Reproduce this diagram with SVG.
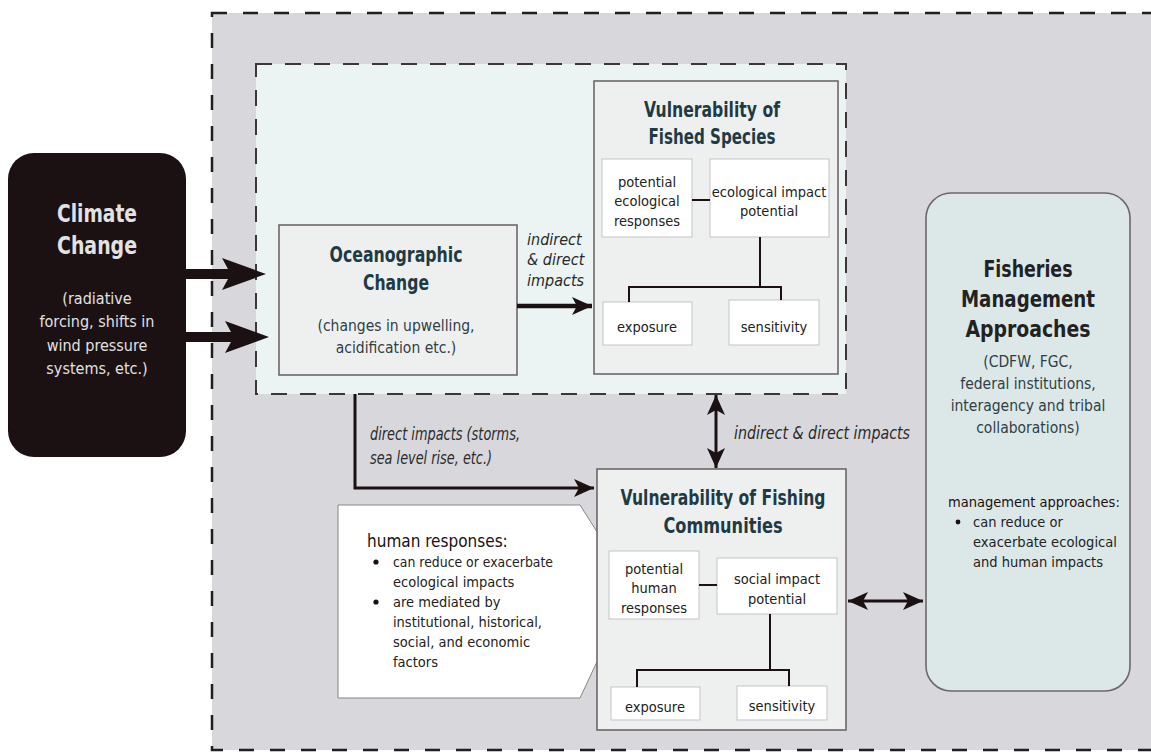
<svg xmlns="http://www.w3.org/2000/svg" width="1151" height="754" viewBox="0 0 1151 754">
<style>
text{font-family:"Liberation Sans Narrow","DejaVu Sans Condensed","Liberation Sans",sans-serif;font-stretch:condensed}
.t{font-weight:bold;fill:#1e3b45;font-size:21px;text-anchor:middle}
.s{fill:#2f3f45;font-size:15.5px;text-anchor:middle}
.b{fill:#222;font-size:14.5px;text-anchor:middle}
.i{font-style:italic;fill:#2a2a2a;font-size:16px}
.il{font-style:italic;fill:#2a2a2a;font-size:17.5px}
.l{fill:#222;font-size:14.5px}
.vbox{fill:#eef0f0;stroke:#6f6769;stroke-width:1.6}
.sub{fill:#fff;stroke:#c3c3c8;stroke-width:1}
.ln{stroke:#1b1012;stroke-width:2;fill:none}
.ar{stroke:#1b1012;stroke-width:3;fill:none}
</style>
<defs>
<marker id="ah" markerUnits="userSpaceOnUse" markerWidth="22" markerHeight="20" refX="20" refY="10" orient="auto-start-reverse">
<path d="M0,1 L20,10 L0,19 L5,10 z" fill="#1b1012"/>
</marker>
</defs>
<g id="outer-region">
<rect x="212" y="13" width="970" height="737" fill="#d7d7dc" stroke="#231f20" stroke-width="2.5" stroke-dasharray="15,16"/>
</g>
<g id="ocean-region">
<rect x="256" y="64" width="590" height="330" fill="#ebf3f3" stroke="#3d3537" stroke-width="2" stroke-dasharray="16,13"/>
</g>
<g id="climate-change">
<rect x="8" y="153" width="178" height="304" rx="26" fill="#1b1012"/>
<text x="97" y="222" text-anchor="middle" font-weight="bold" font-size="24" fill="#e2e2e2" textLength="80" lengthAdjust="spacingAndGlyphs">Climate</text>
<text x="97" y="254" text-anchor="middle" font-weight="bold" font-size="24" fill="#e2e2e2" textLength="80" lengthAdjust="spacingAndGlyphs">Change</text>
<text x="97" y="304" text-anchor="middle" font-size="16" fill="#e2e2e2">(radiative</text>
<text x="97" y="327" text-anchor="middle" font-size="16" fill="#e2e2e2">forcing, shifts in</text>
<text x="97" y="351" text-anchor="middle" font-size="16" fill="#e2e2e2">wind pressure</text>
<text x="97" y="374" text-anchor="middle" font-size="16" fill="#e2e2e2">systems, etc.)</text>
</g>
<g id="oceanographic-change">
<rect class="vbox" x="279" y="225" width="238" height="150"/>
<text class="t" x="396" y="262" textLength="133" lengthAdjust="spacingAndGlyphs">Oceanographic</text>
<text class="t" x="396" y="290" textLength="66" lengthAdjust="spacingAndGlyphs">Change</text>
<text class="s" x="396" y="331">(changes in upwelling,</text>
<text class="s" x="396" y="353">acidification etc.)</text>
</g>
<g id="label-ocean-fished">
<text class="i" x="527" y="245">indirect</text>
<text class="i" x="527" y="265">&amp; direct</text>
<text class="i" x="527" y="286">impacts</text>
</g>
<g id="fished-species">
<rect class="vbox" x="594" y="81" width="244" height="293"/>
<text class="t" x="712" y="117" textLength="136" lengthAdjust="spacingAndGlyphs">Vulnerability of</text>
<text class="t" x="712" y="144" textLength="127" lengthAdjust="spacingAndGlyphs">Fished Species</text>
<rect class="sub" x="602" y="159" width="90" height="78"/>
<text class="b" x="647" y="187">potential</text>
<text class="b" x="647" y="206">ecological</text>
<text class="b" x="647" y="226">responses</text>
<rect class="sub" x="710" y="159" width="119" height="78"/>
<text class="b" x="769" y="197">ecological impact</text>
<text class="b" x="769" y="216">potential</text>
<rect class="sub" x="603" y="302" width="89" height="43"/>
<text class="b" x="647" y="332">exposure</text>
<rect class="sub" x="729" y="300" width="90" height="45"/>
<text class="b" x="774" y="332">sensitivity</text>
</g>
<g id="label-direct">
<text class="il" x="370" y="440" textLength="150" lengthAdjust="spacingAndGlyphs">direct impacts (storms,</text>
<text class="il" x="370" y="464" textLength="122" lengthAdjust="spacingAndGlyphs">sea level rise, etc.)</text>
</g>
<g id="label-indirect">
<text class="il" x="734" y="439" textLength="176" lengthAdjust="spacingAndGlyphs">indirect &amp; direct impacts</text>
</g>
<g id="human-responses">
<path d="M338,505 L580,505 L632,587 L580,698 L338,698 z" fill="#fff" stroke="#8a8486" stroke-width="1"/>
<text x="367" y="547" font-size="17" fill="#1b1012">human responses:</text>
<circle cx="376" cy="562" r="2.6" fill="#1b1012"/>
<text class="l" x="393" y="567" textLength="160" lengthAdjust="spacingAndGlyphs">can reduce or exacerbate</text>
<text class="l" x="393" y="587">ecological impacts</text>
<circle cx="376" cy="602" r="2.6" fill="#1b1012"/>
<text class="l" x="393" y="607">are mediated by</text>
<text class="l" x="393" y="627" textLength="149" lengthAdjust="spacingAndGlyphs">institutional, historical,</text>
<text class="l" x="393" y="647">social, and economic</text>
<text class="l" x="393" y="667">factors</text>
</g>
<g id="fishing-communities">
<rect class="vbox" x="597" y="469" width="249" height="261"/>
<text class="t" x="723" y="505" textLength="205" lengthAdjust="spacingAndGlyphs">Vulnerability of Fishing</text>
<text class="t" x="723" y="533" textLength="119" lengthAdjust="spacingAndGlyphs">Communities</text>
<rect class="sub" x="609" y="551" width="90" height="68"/>
<text class="b" x="654" y="574">potential</text>
<text class="b" x="654" y="593">human</text>
<text class="b" x="654" y="613">responses</text>
<rect class="sub" x="717" y="558" width="120" height="56"/>
<text class="b" x="777" y="584">social impact</text>
<text class="b" x="777" y="604">potential</text>
<rect class="sub" x="611" y="687" width="89" height="33"/>
<text class="b" x="655" y="712">exposure</text>
<rect class="sub" x="737" y="686" width="90" height="34"/>
<text class="b" x="782" y="711">sensitivity</text>
</g>
<g id="fisheries-management">
<rect x="926" y="193" width="204" height="498" rx="25" fill="#dce8e8" stroke="#6f6769" stroke-width="1.6"/>
<text x="1028" y="277" text-anchor="middle" font-weight="bold" font-size="23" fill="#222" textLength="89" lengthAdjust="spacingAndGlyphs">Fisheries</text>
<text x="1028" y="307" text-anchor="middle" font-weight="bold" font-size="23" fill="#222" textLength="134" lengthAdjust="spacingAndGlyphs">Management</text>
<text x="1028" y="337" text-anchor="middle" font-weight="bold" font-size="23" fill="#222" textLength="125" lengthAdjust="spacingAndGlyphs">Approaches</text>
<text class="s" x="1028" y="367">(CDFW, FGC,</text>
<text class="s" x="1028" y="389">federal institutions,</text>
<text class="s" x="1028" y="411">interagency and tribal</text>
<text class="s" x="1028" y="433">collaborations)</text>
<text x="948" y="507" font-size="14.5" fill="#1b1012">management approaches:</text>
<circle cx="958" cy="522" r="2.4" fill="#1b1012"/>
<text class="l" x="973" y="527">can reduce or</text>
<text class="l" x="973" y="547" textLength="144" lengthAdjust="spacingAndGlyphs">exacerbate ecological</text>
<text class="l" x="973" y="567">and human impacts</text>
</g>
<g id="connectors">
<path d="M186,269 L228,269 L222,258 L266,274 L222,290 L228,279 L186,279 z" fill="#1b1012"/>
<path d="M186,332 L231,332 L225,321 L269,337 L225,353 L231,342 L186,342 z" fill="#1b1012"/>
<line x1="517" y1="306" x2="592" y2="306" stroke="#1b1012" stroke-width="4.5" marker-end="url(#ah)"/>
<path class="ar" d="M355,394 L355,488 L594,488" marker-end="url(#ah)"/>
<line class="ar" x1="716" y1="395" x2="716" y2="468" marker-start="url(#ah)" marker-end="url(#ah)"/>
<line class="ar" x1="848" y1="601" x2="923" y2="601" marker-start="url(#ah)" marker-end="url(#ah)"/>
<line class="ln" x1="692" y1="200" x2="710" y2="200"/>
<path class="ln" d="M760,237 L760,287 M628,287 L782,287 M629,286 L629,302 M781,286 L781,300"/>
<line class="ln" x1="699" y1="585" x2="717" y2="585"/>
<path class="ln" d="M770,614 L770,670 M636,670 L790,670 M637,669 L637,687 M789,669 L789,686"/>
</g>
</svg>
